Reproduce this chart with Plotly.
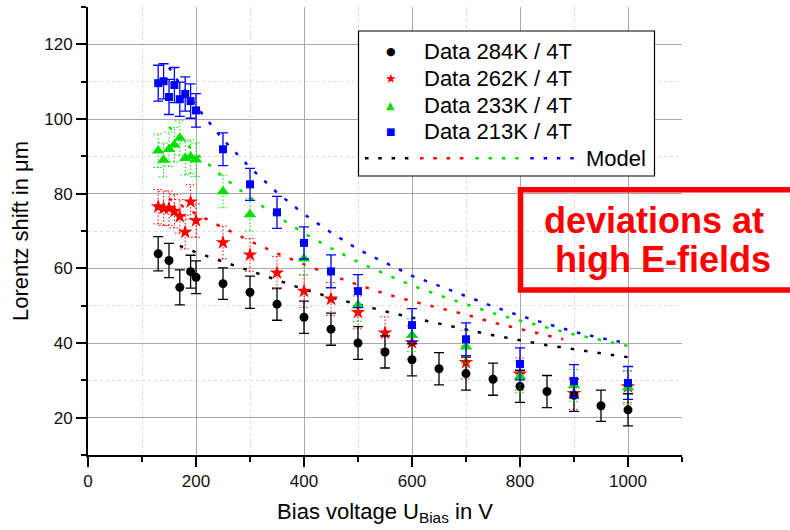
import plotly.graph_objects as go

# ---------------- data ----------------
x_284 = [130, 150, 170, 190, 200, 250, 300, 350, 400, 450, 500, 550, 600, 650, 700, 750, 800, 850, 900, 950, 1000]
y_284 = [63.9, 62.1, 54.9, 59.1, 57.6, 55.9, 53.6, 50.4, 46.9, 43.7, 40.0, 37.6, 35.5, 33.1, 31.8, 30.3, 28.4, 27.0, 26.0, 23.2, 22.1]
e_284 = [4.6, 4.6, 4.7, 4.4, 4.4, 4.2, 4.3, 4.3, 4.3, 4.3, 4.4, 4.3, 4.3, 4.3, 4.4, 4.3, 4.3, 4.3, 4.3, 4.2, 4.3]

x_262 = [130, 140, 150, 160, 170, 180, 190, 200, 250, 300, 350, 400, 450, 500, 550, 600, 700, 800, 900, 1000]
y_262 = [76.5, 76.1, 76.1, 75.3, 73.9, 69.7, 77.8, 72.8, 66.9, 63.6, 58.8, 53.9, 51.8, 48.2, 42.7, 40.1, 34.8, 31.7, 26.5, 28.3]
e_262 = [4.6, 4.6, 4.6, 4.5, 4.5, 4.5, 4.6, 4.5, 4.4, 4.4, 4.4, 4.4, 4.4, 4.4, 4.3, 4.4, 4.4, 4.3, 4.3, 4.3]

x_233 = [130, 140, 150, 160, 170, 180, 190, 200, 250, 300, 400, 500, 600, 700, 800, 900, 1000]
y_233 = [91.5, 89.0, 91.9, 93.1, 94.9, 89.5, 89.9, 89.1, 80.6, 74.4, 62.6, 50.2, 42.1, 39.0, 31.0, 28.6, 28.0]
e_233 = [4.5, 4.5, 4.6, 4.6, 4.6, 4.5, 4.5, 4.5, 4.4, 4.4, 4.4, 4.4, 4.4, 4.4, 4.3, 4.3, 4.4]

x_213 = [130, 140, 150, 160, 170, 180, 190, 200, 250, 300, 350, 400, 450, 500, 600, 700, 800, 900, 1000]
y_213 = [109.6, 110.1, 105.9, 109.1, 105.3, 106.7, 104.8, 102.3, 91.9, 82.5, 75.0, 66.8, 59.2, 53.9, 44.8, 41.0, 34.4, 29.8, 29.3]
e_213 = [4.8, 4.7, 4.7, 4.7, 4.6, 4.6, 4.6, 4.5, 4.4, 4.3, 4.3, 4.3, 4.4, 4.4, 4.4, 4.4, 4.3, 4.4, 4.4]

# model curves
xm_284 = [170, 200, 250, 300, 350, 400, 450, 500, 550, 600, 650, 700, 750, 800, 850, 900, 950, 1000]
ym_284 = [66.0, 64.3, 61.8, 59.3, 56.8, 54.4, 52.2, 50.3, 48.5, 46.8, 45.1, 43.6, 42.1, 40.7, 39.4, 38.3, 37.2, 36.2]
xm_262 = [150, 170, 200, 250, 300, 350, 400, 450, 500, 550, 600, 650, 700, 750, 800, 850, 880]
ym_262 = [78.7, 77.0, 74.6, 70.9, 67.3, 64.0, 61.0, 58.2, 55.6, 53.2, 51.2, 49.5, 47.6, 45.5, 43.7, 42.0, 41.0]
xm_233 = [150, 200, 250, 300, 350, 400, 450, 500, 550, 600, 650, 700, 750, 800, 850, 900, 950, 1000]
ym_233 = [97.9, 90.8, 84.5, 78.9, 74.0, 69.4, 65.4, 61.7, 58.5, 55.4, 52.8, 50.3, 48.0, 46.0, 44.1, 42.3, 40.8, 39.2]
xm_213 = [150, 170, 200, 250, 300, 350, 400, 450, 500, 550, 600, 650, 700, 750, 800, 850, 900, 950, 1000]
ym_213 = [113.8, 109.4, 103.5, 94.5, 87.0, 80.3, 74.5, 69.6, 65.1, 61.5, 58.0, 55.3, 52.5, 49.8, 47.3, 45.2, 43.0, 41.3, 39.9]

legend_names = ["Data 284K / 4T", "Data 262K / 4T", "Data 233K / 4T", "Data 213K / 4T"]
colors = ["#000000", "#ff0000", "#00e000", "#0000ff"]
x_title = "Bias voltage U<sub>Bias</sub> in V"
y_title = "Lorentz shift in \u03bcm"
note_lines = ["deviations at", "high E-fields"]

FONT = "Liberation Sans, Arial, sans-serif"

# ---------------- layout geometry ----------------
W, H = 790, 530
ML, MR, MT, MB = 88, 108, 7, 75
PW, PH = W - ML - MR, H - MT - MB


def xp(px):
    return (px - ML) / PW


def yp(py):
    return (H - MB - py) / PH


CAP = 9.0  # half cap width in volts (~5 px)


def dotted_err(xs, ys, es):
    X, Y = [], []
    for x, y, e in zip(xs, ys, es):
        X += [x, x, None, x - CAP, x + CAP, None, x - CAP, x + CAP, None]
        Y += [y - e, y + e, None, y + e, y + e, None, y - e, y - e, None]
    return X, Y


fig = go.Figure()

# model lines
for xm, ym, c in [(xm_284, ym_284, colors[0]), (xm_262, ym_262, colors[1]),
                  (xm_233, ym_233, colors[2]), (xm_213, ym_213, colors[3])]:
    fig.add_trace(go.Scatter(x=xm, y=ym, mode="lines", showlegend=False, hoverinfo="skip",
                             line=dict(color=c, width=2.5, dash="3.5px,10px")))

# red data (dotted error bars)
ex, ey = dotted_err(x_262, y_262, e_262)
fig.add_trace(go.Scatter(x=ex, y=ey, mode="lines", showlegend=False, hoverinfo="skip",
                         line=dict(color=colors[1], width=1, dash="1.5px,2px")))
fig.add_trace(go.Scatter(x=x_262, y=y_262, mode="markers", name=legend_names[1], showlegend=False,
                         marker=dict(symbol="star", size=11, color=colors[1])))

# black data
fig.add_trace(go.Scatter(x=x_284, y=y_284, mode="markers", name=legend_names[0], showlegend=False,
                         marker=dict(symbol="circle", size=9, color=colors[0]),
                         error_y=dict(type="data", array=e_284, color="#000000", thickness=1.3, width=5)))

# green data (dotted error bars)
ex, ey = dotted_err(x_233, y_233, e_233)
fig.add_trace(go.Scatter(x=ex, y=ey, mode="lines", showlegend=False, hoverinfo="skip",
                         line=dict(color=colors[2], width=1, dash="1.5px,2px")))
fig.add_trace(go.Scatter(x=x_233, y=y_233, mode="markers", name=legend_names[2], showlegend=False,
                         marker=dict(symbol="triangle-up", size=11, color=colors[2])))

# blue data
fig.add_trace(go.Scatter(x=x_213, y=y_213, mode="markers", name=legend_names[3], showlegend=False,
                         marker=dict(symbol="square", size=8, color=colors[3]),
                         error_y=dict(type="data", array=e_213, color="#0000ff", thickness=1.3, width=5)))

grid_major = "#a8a8a8"
grid_minor = "#dadada"

fig.update_layout(
    width=W, height=H,
    margin=dict(l=ML, r=MR, t=MT, b=MB, pad=0),
    paper_bgcolor="white", plot_bgcolor="white",
    font=dict(family=FONT, color="#000000"),
    showlegend=False,
    xaxis=dict(range=[0, 1100], tick0=0, dtick=200, ticks="outside", ticklen=10, tickwidth=2,
               tickcolor="black", showline=True, linecolor="black", linewidth=2,
               showgrid=True, gridcolor=grid_major, gridwidth=1, zeroline=False,
               tickfont=dict(size=17, family=FONT, color="#111"),
               minor=dict(dtick=100, ticklen=5, tickwidth=2, tickcolor="black", ticks="outside",
                          showgrid=True, gridcolor=grid_minor, griddash="dot", gridwidth=1),
               title=dict(text=x_title, font=dict(size=22, family=FONT), standoff=13)),
    yaxis=dict(range=[10, 130], tick0=0, dtick=20, ticks="outside", ticklen=10, tickwidth=2,
               tickcolor="black", showline=True, linecolor="black", linewidth=2,
               showgrid=True, gridcolor=grid_major, gridwidth=1, zeroline=False,
               tickfont=dict(size=17, family=FONT, color="#111"),
               minor=dict(dtick=10, ticklen=5, tickwidth=2, tickcolor="black", ticks="outside",
                          showgrid=True, gridcolor=grid_minor, griddash="dot", gridwidth=1),
               title=dict(text=y_title, font=dict(size=22, family=FONT), standoff=10)),
    xaxis2=dict(range=[0, 1100], overlaying="x", side="top", anchor="y", tick0=0, dtick=200,
                ticks="inside", ticklen=9, tickwidth=2, tickcolor="black", showticklabels=False,
                showline=True, linecolor="black", linewidth=2, showgrid=False, zeroline=False,
                minor=dict(dtick=100, ticklen=5, tickwidth=2, tickcolor="black", ticks="inside",
                           showgrid=False)),
    yaxis2=dict(range=[10, 130], overlaying="y", side="right", anchor="x", tick0=0, dtick=20,
                ticks="inside", ticklen=9, tickwidth=2, tickcolor="black", showticklabels=False,
                showline=True, linecolor="black", linewidth=2, showgrid=False, zeroline=False,
                minor=dict(dtick=10, ticklen=5, tickwidth=2, tickcolor="black", ticks="inside",
                           showgrid=False)),
)

shapes = []
annotations = []

# legend box
shapes.append(dict(type="rect", xref="paper", yref="paper", x0=xp(358.5), x1=xp(654.5),
                   y0=yp(176), y1=yp(31), line=dict(color="black", width=1.2), fillcolor="white",
                   layer="above"))
row_y = [51.7, 78.3, 105.0, 131.7, 158.3]
glyphs = [("\u25cf", 11), ("\u2605", 13), ("\u25b2", 11), ("\u25a0", 10)]
for i in range(4):
    annotations.append(dict(xref="paper", yref="paper", x=xp(390.7), y=yp(row_y[i]),
                            text=glyphs[i][0], showarrow=False, xanchor="center", yanchor="middle",
                            font=dict(size=glyphs[i][1], color=colors[i], family="DejaVu Sans")))
    annotations.append(dict(xref="paper", yref="paper", x=xp(421.5), y=yp(row_y[i]),
                            text=legend_names[i], showarrow=False, xanchor="left", yanchor="middle",
                            font=dict(size=22, color="black", family=FONT)))
seg_starts = [365.0, 420.0, 475.3, 530.3]
for i in range(4):
    shapes.append(dict(type="line", xref="paper", yref="paper", x0=xp(seg_starts[i]),
                       x1=xp(seg_starts[i] + 43.5), y0=yp(row_y[4]), y1=yp(row_y[4]),
                       line=dict(color=colors[i], width=2.5, dash="3.5px,9.8px"), layer="above"))
annotations.append(dict(xref="paper", yref="paper", x=xp(648), y=yp(row_y[4]),
                        text="Model", showarrow=False, xanchor="right", yanchor="middle",
                        font=dict(size=22, color="black", family=FONT)))

# red note box
shapes.append(dict(type="rect", xref="paper", yref="paper", x0=xp(520.5), x1=xp(820),
                   y0=yp(290), y1=yp(189.8), line=dict(color="#ff0000", width=5.5),
                   fillcolor="rgba(0,0,0,0)", layer="above"))
annotations.append(dict(xref="paper", yref="paper", x=xp(653.5), y=yp(220.5), text="<b>%s</b>" % note_lines[0],
                        showarrow=False, xanchor="center", yanchor="middle",
                        font=dict(size=36, color="#ff0000", family=FONT)))
annotations.append(dict(xref="paper", yref="paper", x=xp(662.5), y=yp(259), text="<b>%s</b>" % note_lines[1],
                        showarrow=False, xanchor="center", yanchor="middle",
                        font=dict(size=36, color="#ff0000", family=FONT)))

fig.update_layout(shapes=shapes, annotations=annotations)
fig.write_html("out.html")
